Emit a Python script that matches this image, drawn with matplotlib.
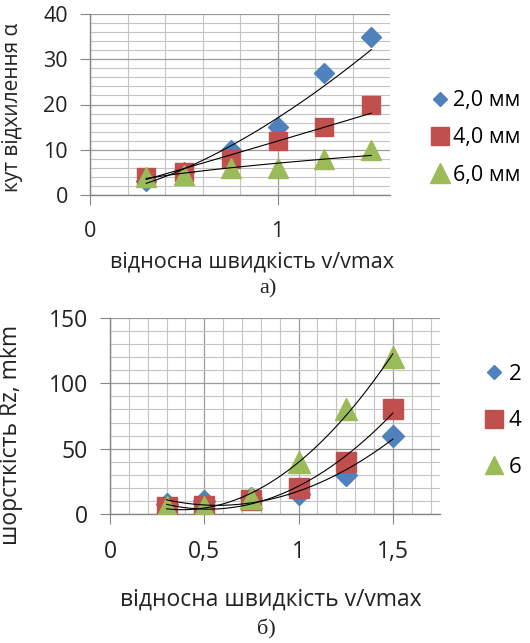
import numpy as np
import matplotlib
matplotlib.use("Agg")
import matplotlib.pyplot as plt
from matplotlib.lines import Line2D
from matplotlib.ticker import MultipleLocator, FuncFormatter

plt.rcParams['font.family'] = ['Open Sans', 'DejaVu Sans']

# ---- data (a) ----
x_a = [0.3, 0.5, 0.75, 1.0, 1.25, 1.5]
a_2mm = [3, 5, 10, 15, 27, 35]
a_4mm = [4, 5, 8, 12, 15, 20]
a_6mm = [4, 4.5, 6, 6, 8, 10]
labels_a = ["2,0 мм", "4,0 мм", "6,0 мм"]

# ---- data (b) ----
x_b = [0.3, 0.5, 0.75, 1.0, 1.25, 1.5]
b_2 = [8, 10, 12, 15, 30, 60]
b_4 = [5, 6, 11, 20, 40, 80]
b_6 = [5, 5, 12, 40, 80, 120]
labels_b = ["2", "4", "6"]

BLUE = "#4F81BD"
RED = "#C0504D"
GREEN = "#9BBB59"
TXT = "#222222"
markers = [("D", BLUE), ("s", RED), ("^", GREEN)]

W, H = 530, 643
fig = plt.figure(figsize=(W / 100, H / 100), dpi=100)

def box(l, t, r, b):
    return [l / W, 1 - b / H, (r - l) / W, (b - t) / H]

def style(ax, fs):
    for s in ["top", "right"]:
        ax.spines[s].set_visible(False)
    for s in ["left", "bottom"]:
        ax.spines[s].set_color("#868686")
        ax.spines[s].set_linewidth(1.0)
    ax.grid(which="major", color="#9a9a9a", lw=0.9)
    ax.grid(which="minor", color="#c4c4c4", lw=0.8)
    ax.set_axisbelow(True)
    ax.tick_params(which="major", direction="out", length=7, color="#868686",
                   labelsize=fs, labelcolor=TXT)
    ax.tick_params(axis="y", pad=9)
    ax.tick_params(axis="x", pad=12)
    ax.tick_params(which="minor", length=0)

def comma(v, p):
    return ("%g" % v).replace(".", ",")

def power_fit(x, y):
    x = np.asarray(x, float); y = np.asarray(y, float)
    b, a = np.polyfit(np.log(x), np.log(y), 1)
    xs = np.linspace(x.min(), x.max(), 100)
    return xs, np.exp(a) * xs ** b

def poly_fit(x, y):
    x = np.asarray(x, float); y = np.asarray(y, float)
    c = np.polyfit(x, y, 2)
    xs = np.linspace(x.min(), x.max(), 100)
    return xs, np.polyval(c, xs)

# ---------- chart (a) ----------
A = (90, 14, 390, 195)
ax1 = fig.add_axes(box(*A))
style(ax1, 15.5)
ax1.set_xlim(0, 1.6)
ax1.set_ylim(0, 40)
ax1.xaxis.set_major_locator(MultipleLocator(1))
ax1.xaxis.set_minor_locator(MultipleLocator(0.2))
ax1.yaxis.set_major_locator(MultipleLocator(10))
ax1.yaxis.set_minor_locator(MultipleLocator(2))
ax1.xaxis.set_major_formatter(FuncFormatter(comma))
ms_a = [10, 13, 15]
for ys, (m, c), ms, lab in zip([a_2mm, a_4mm, a_6mm], markers, ms_a, labels_a):
    ax1.plot(x_a, ys, ls="none", marker=m, color=c, ms=ms, label=lab, zorder=3)
for ys in [a_2mm, a_4mm, a_6mm]:
    xs, yf = power_fit(x_a, ys)
    ax1.plot(xs, yf, color="black", lw=0.8, zorder=4)
ax1.set_ylabel("кут відхилення α", fontsize=15, color=TXT)
ax1.yaxis.set_label_coords((23 - 90) / 300, (195 - 107) / 181)
ax1.set_xlabel("відносна швидкість v/vmax", fontsize=15.5, color=TXT)
ax1.xaxis.label.set_va("center")
ax1.xaxis.set_label_coords((252 - 90) / 300, (195 - 262) / 181)

leg_ms_a = [7, 13, 14]
proxies = [Line2D([], [], ls="none", marker=m, color=c, ms=s)
           for (m, c), s in zip(markers, leg_ms_a)]
fig.legend(proxies, labels_a, loc="center left", bbox_to_anchor=(434 / W, 1 - 138 / H),
           frameon=False, fontsize=15.5, handlelength=0.6, handletextpad=0.26,
           labelspacing=0.75, borderaxespad=0, borderpad=0)
fig.text(268 / W, 1 - 289 / H, "а)", fontsize=16, family="Liberation Serif",
         ha="center", va="center", color=TXT)

# ---------- chart (b) ----------
B = (110, 318, 440, 514)
ax2 = fig.add_axes(box(*B))
style(ax2, 16.5)
ax2.set_xlim(0, 1.75)
ax2.set_ylim(0, 150)
ax2.xaxis.set_major_locator(MultipleLocator(0.5))
ax2.xaxis.set_minor_locator(MultipleLocator(0.1))
ax2.yaxis.set_major_locator(MultipleLocator(50))
ax2.yaxis.set_minor_locator(MultipleLocator(10))
ax2.xaxis.set_major_formatter(FuncFormatter(comma))
ms_b = [11, 14.5, 15.5]
for ys, (m, c), ms, lab in zip([b_2, b_4, b_6], markers, ms_b, labels_b):
    ax2.plot(x_b, ys, ls="none", marker=m, color=c, ms=ms, label=lab, zorder=3)
for ys in [b_2, b_4, b_6]:
    xs, yf = poly_fit(x_b, ys)
    ax2.plot(xs, yf, color="black", lw=0.8, zorder=4)
ax2.set_ylabel("шорсткість Rz, mkm", fontsize=16.5, color=TXT)
ax2.yaxis.set_label_coords((23 - 110) / 330, (514 - 435) / 196)
ax2.set_xlabel("відносна швидкість v/vmax", fontsize=16.5, color=TXT)
ax2.xaxis.label.set_va("center")
ax2.xaxis.set_label_coords((271 - 110) / 330, (514 - 600) / 196)

leg_ms_b = [7, 12.5, 13.5]
proxies = [Line2D([], [], ls="none", marker=m, color=c, ms=s)
           for (m, c), s in zip(markers, leg_ms_b)]
fig.legend(proxies, labels_b, loc="center left", bbox_to_anchor=(487 / W, 1 - 421 / H),
           frameon=False, fontsize=16, handlelength=0.6, handletextpad=0.38,
           labelspacing=1.15, borderaxespad=0, borderpad=0)
fig.text(266 / W, 1 - 629 / H, "б)", fontsize=16, family="Liberation Serif",
         ha="center", va="center", color=TXT)

fig.savefig("out.png", dpi=100, facecolor="white")
